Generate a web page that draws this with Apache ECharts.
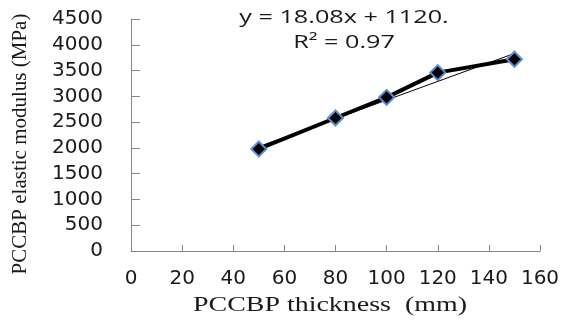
<!DOCTYPE html>
<html>
<head>
<meta charset="utf-8">
<script src="https://cdn.jsdelivr.net/npm/echarts@6/dist/echarts.min.js"></script>
<style>html,body{margin:0;padding:0;background:#fff}#c{width:563px;height:322px}</style>
</head>
<body>
<div id="c"></div>
<script>
const thickness = [50, 80, 100, 120, 150];
const modulus = [1980, 2580, 2980, 3460, 3720];
const trendX = [50, 150];
const trendY = [2024, 3832];
const equationText = "y = 18.08x + 1120.";
const r2Text = "R\u00b2 = 0.97";
const xTitle = "PCCBP thickness  (mm)";
const yTitle = "PCCBP elastic modulus (MPa)";

const chart = echarts.init(document.getElementById('c'), null, {renderer: 'canvas'});
const sans = 'DejaVu Sans';
const serif = 'Liberation Serif';
chart.setOption({
  animation: false,
  backgroundColor: '#fff',
  graphic: [
    {type: 'text', x: 344, y: 18, scaleX: 1.4,
     style: {text: equationText, x: 0, y: 0, align: 'center', verticalAlign: 'middle',
             font: '18px "Open Sans"', fill: '#1a1a1a'}},
    {type: 'text', x: 344, y: 43, scaleX: 1.4,
     style: {text: r2Text, x: 0, y: 0, align: 'center', verticalAlign: 'middle',
             font: '18px "Open Sans"', fill: '#1a1a1a'}},
    {type: 'text', x: 330, y: 305, scaleX: 1.33,
     style: {text: xTitle, x: 0, y: 0, align: 'center', verticalAlign: 'middle',
             font: '21px "Liberation Serif"', fill: '#1a1a1a'}}
  ],
  grid: {left: 131, right: 23, top: 19, bottom: 71, containLabel: false, outerBoundsMode: 'none'},
  xAxis: {
    type: 'value', min: 0, max: 160, interval: 20,
    axisLine: {show: true, lineStyle: {color: '#868686', width: 1}},
    axisTick: {show: true, inside: true, length: 6, lineStyle: {color: '#868686'}},
    axisLabel: {fontFamily: sans, fontSize: 20, color: '#1a1a1a', margin: 18, formatter: v => String(v)},
    splitLine: {show: false}
  },
  yAxis: {
    type: 'value', min: 0, max: 4500, interval: 500,
    name: yTitle, nameLocation: 'middle', nameGap: 100,
    nameTextStyle: {fontFamily: serif, fontSize: 21, color: '#1a1a1a', padding: [0, 18, 0, 0]},
    axisLine: {show: true, lineStyle: {color: '#868686', width: 1}},
    axisTick: {show: true, inside: true, length: 9, lineStyle: {color: '#868686'}},
    axisLabel: {fontFamily: sans, fontSize: 20, color: '#1a1a1a', margin: 28, formatter: v => String(v)},
    splitLine: {show: false}
  },
  series: [
    {
      type: 'line',
      data: trendX.map((x, i) => [x, trendY[i]]),
      symbol: 'none',
      lineStyle: {color: '#000', width: 1},
      z: 1
    },
    {
      type: 'line',
      data: thickness.map((x, i) => [x, modulus[i]]),
      symbol: 'diamond', symbolSize: 15,
      itemStyle: {color: '#000', borderColor: '#5B8ED0', borderWidth: 2},
      lineStyle: {color: '#000', width: 4},
      z: 2
    }
  ]
});
</script>
</body>
</html>
